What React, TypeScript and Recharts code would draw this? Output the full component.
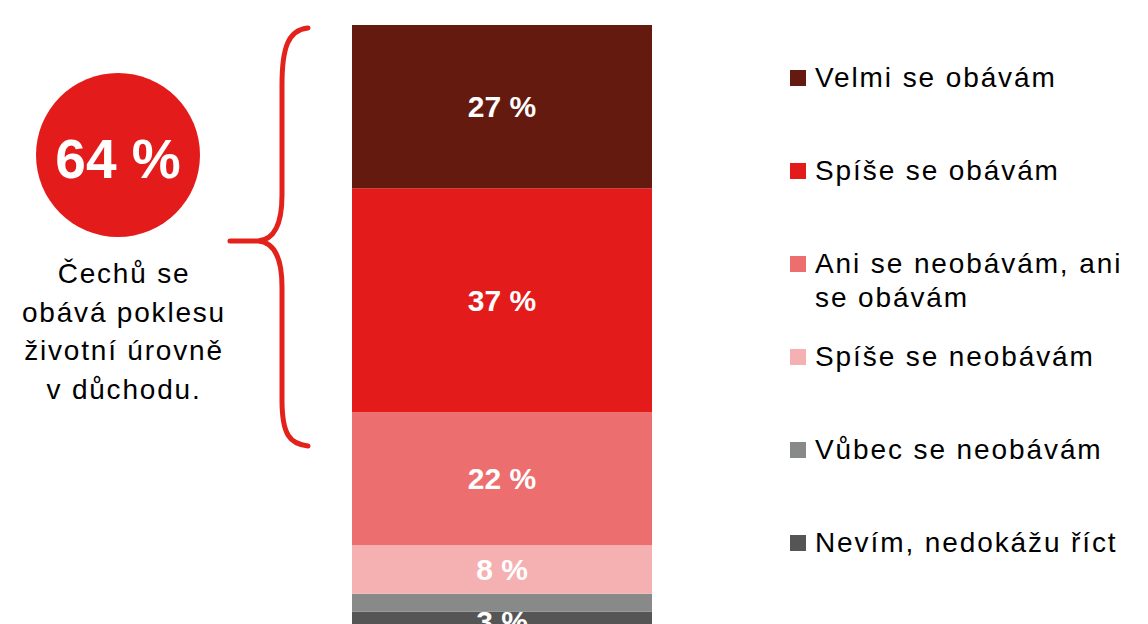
import { Bar, BarChart, LabelList, Legend, XAxis, YAxis } from "recharts";

const SERIES = [
  "Velmi se obávám",
  "Spíše se obávám",
  "Ani se neobávám, ani se obávám",
  "Spíše se neobávám",
  "Vůbec se neobávám",
  "Nevím, nedokážu říct",
];
const KEYS = ["velmi", "spise", "ani", "spiseNe", "vubec", "nevim"];
const VALUES = [27, 37, 22, 8, 3, 3];
const SHOW_LABEL = [true, true, true, true, false, true];
const CATEGORY = "Celkem";

const HEADLINE = "64 %";
const NOTE_LINES = ["Čechů se", "obává poklesu", "životní úrovně", "v důchodu."];

const COLORS = ["#641A0F", "#E41B1B", "#ED6E6F", "#F5B0B1", "#888A89", "#555555"];
const FONT = '"Liberation Sans", Arial, sans-serif';

const row: Record<string, string | number> = { name: CATEGORY };
KEYS.forEach((k, i) => {
  row[k] = VALUES[i];
});
const data = [row];

function LegendBox() {
  return (
    <div style={{ fontFamily: FONT, fontSize: 28, letterSpacing: 1.9, color: "#000" }}>
      {SERIES.map((s, i) => (
        <div key={s} style={{ display: "flex", height: 93, alignItems: "flex-start" }}>
          <div
            style={{
              width: 16,
              height: 16,
              marginTop: 9,
              marginRight: 9,
              background: COLORS[i],
              flex: "none",
            }}
          />
          <div style={{ width: 320, lineHeight: "34px" }}>{s}</div>
        </div>
      ))}
    </div>
  );
}

export default function App() {
  return (
    <div
      style={{
        position: "absolute",
        left: 0,
        top: 0,
        width: 1148,
        height: 624,
        overflow: "hidden",
        background: "#fff",
      }}
    >
      <BarChart
        width={1148}
        height={640}
        data={data}
        margin={{ top: 25, right: 476, left: 332, bottom: 10 }}
      >
        <XAxis dataKey="name" hide />
        <YAxis type="number" domain={[0, 100]} hide />
        {KEYS.map((k, i) => ({ k, i }))
          .reverse()
          .map(({ k, i }) => (
            <Bar
              key={k}
              dataKey={k}
              name={SERIES[i]}
              stackId="a"
              fill={COLORS[i]}
              barSize={300}
              isAnimationActive={false}
            >
              {SHOW_LABEL[i] && (
                <LabelList
                  dataKey={k}
                  position="center"
                  fill="#fff"
                  fontSize={30}
                  fontWeight="bold"
                  fontFamily={FONT}
                  formatter={(v: any) => `${v} %`}
                />
              )}
            </Bar>
          ))}
        <Legend
          layout="horizontal"
          verticalAlign="middle"
          align="center"
          content={() => <LegendBox />}
          wrapperStyle={{ left: 790, top: 61, width: 358, height: 560 }}
        />
      </BarChart>
      <svg
        width={340}
        height={624}
        style={{ position: "absolute", left: 0, top: 0, pointerEvents: "none" }}
      >
        <circle cx={118} cy={155} r={82} fill="#E41B1B" />
        <text
          x={118}
          y={178}
          textAnchor="middle"
          fill="#fff"
          fontSize={55}
          fontWeight="bold"
          fontFamily={FONT}
        >
          {HEADLINE}
        </text>
        {NOTE_LINES.map((t, i) => (
          <text
            key={t}
            x={124}
            y={283 + i * 38.5}
            textAnchor="middle"
            fill="#000"
            fontSize={28}
            letterSpacing={1.8}
            fontFamily={FONT}
          >
            {t}
          </text>
        ))}
        <path
          d="M308,28 C288,30 282,48 282,85 L282,195 C282,228 272,240 258,241 L230,241 M258,241 C272,242 282,254 282,287 L282,400 C282,435 290,444 308,446"
          fill="none"
          stroke="#E3221B"
          strokeWidth={5}
          strokeLinecap="round"
        />
      </svg>
    </div>
  );
}
